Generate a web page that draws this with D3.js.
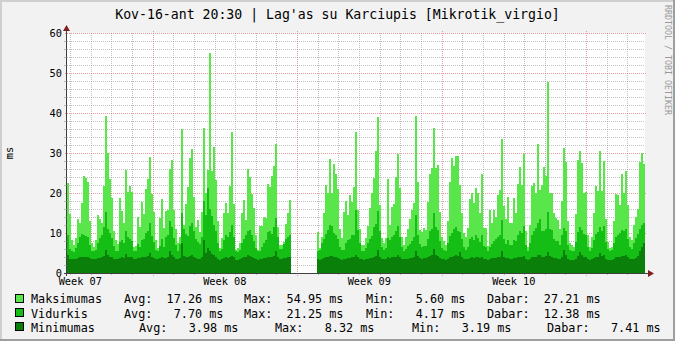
<!DOCTYPE html>
<html>
<head>
<meta charset="utf-8">
<script src="https://cdn.jsdelivr.net/npm/d3@7"></script>
<style>
    body { margin: 0; background: #f2f2f2; }
    svg { display: block; font-family: "DejaVu Sans Mono", monospace; }
    text { white-space: pre; }
</style>
</head>
<body>
<div id="chart"></div>
<script>
// graph time window (one month up to the title time)
const startTime = Date.UTC(2010, 1, 16, 20, 30)
const endTime = Date.UTC(2010, 2, 16, 20, 30)

// one value per consolidated step, null = no data
const maksimumas = [
    22.4, 14.8, 8.3, 7.0, 8.7, 13.5, 12.4, 17.4, 24.3, 23.8, 22.8, 13.1, 7.4, 6.6, 8.3, 14.5, 13.4, 12.6, 21.8, 39.3,
    29.9, 23.5, 18.7, 10.5, 8.3, 7.2, 18.7, 15.5, 12.4, 25.8, 20.2, 21.8, 20.2, 6.6, 6.8, 13.9, 11.4, 17.8, 14.8, 20.9,
    23.5, 29.0, 19.8, 15.3, 8.3, 6.2, 13.7, 18.4, 11.2,
    15.5, 15.8, 25.9, 28.3, 15.8, 10.9, 7.4, 9.1, 35.9, 12.0, 17.3, 21.4, 28.8, 31.0, 19.1, 11.6, 13.3, 10.3, 15.3, 36.3,
    19.9, 25.8, 54.95, 25.5, 31.6, 23.3, 13.0, 6.3, 8.7, 14.9, 17.6, 15.1, 21.8, 35.3, 17.3, 5.75, 6.2, 7.4, 15.1, 18.3,
    13.3, 26.0, 24.1, 19.7, 16.2, 9.5, 5.75, 11.75, 11.75,
    13.9, 13.7, 22.25, 21.6, 24.25, 26.75, 32.25, 11.6, 7.0, 7.0, 7.8, 12.2, 15.1, 18.25,
    null, null, null, null, null, null, null, null, null, null, null, null, null,
    10.3, 6.2, 9.1, 15.1, 22.0, 19.9, 28.5, 19.9, 27.25, 24.75, 20.9, 10.9, 8.7, 15.3, 17.9, 14.5, 19.5, 17.8, 21.6, 35.3,
    15.75, 11.0,
    7.0, 7.0, 8.8, 11.75, 16.2, 19.9, 23.7, 30.6, 38.9, 17.0, 8.7, 7.4, 8.7, 23.5, 12.0, 16.6, 17.25, 24.1, 29.75, 21.2,
    9.1, 7.0, 9.1, 10.9, 13.4, 15.75, 17.4, 39.25, 22.8, 10.75, 10.3, 11.2, 10.75, 17.8, 24.75, 26.2, 36.3, 26.2, 27.0, 15.3,
    9.1, 8.1, 7.0, 13.1, 22.8, 28.8, 26.75, 29.25, 29.25,
    22.0, 15.1, 10.1, 8.9, 11.2, 18.5, 19.9, 17.4, 21.3, 19.9, 15.1, 24.75, 11.2, 11.2, 6.75, 15.75, 12.6, 15.75, 14.1, 19.5,
    20.75, 33.5, 16.75, 13.4, 19.1, 12.4, 12.4, 18.7, 15.1, 22.25, 26.6, 22.0, 29.75, 10.6, 6.6, 12.0, 21.75, 22.4, 19.9, 32.25,
    20.75, 22.0, 26.6, 24.25, 47.8, 19.9, 19.9, 14.9, 13.7,
    13.25, 10.9, 18.1, 31.3, 27.8, 13.0, 7.4, 7.0, 6.6, 14.75, 28.25, 30.6, 27.4, 19.9, 20.3, 9.5, 6.6, 9.1, 15.1, 21.75,
    20.5, 30.5, 20.5, 28.0, 13.4, 7.8, 6.2, 6.6, 13.1, 19.7, 19.5, 17.0, 24.75, 19.9, 25.5, 17.0, 9.1, 8.25, 12.0, 14.1,
    15.9, 27.75, 29.9, 27.21
]
const vidurkis = [
    9.5, 6.0, 5.5, 5.3, 6.2, 7.5, 9.0, 9.8, 9.6, 9.2, 9.0, 7.0, 5.6, 5.4, 5.8, 7.5, 8.8, 9.6, 11.5, 15.3,
    11.0, 10.0, 8.8, 6.8, 5.6, 5.5, 7.8, 8.2, 7.5, 10.5, 9.0, 8.4, 8.0, 5.6, 5.5, 7.2, 6.6, 8.2, 8.6, 10.0,
    10.5, 12.4, 9.2, 7.8, 5.8, 5.4, 6.8, 8.6, 6.5,
    9.0, 9.5, 13.0, 11.5, 8.8, 7.0, 5.6, 7.2, 15.0, 11.0, 9.8, 9.2, 11.8, 12.5, 10.5, 8.5, 7.8, 7.2, 9.0, 18.0,
    14.5, 21.25, 16.0, 14.2, 12.0, 10.5, 7.5, 5.5, 6.0, 8.2, 9.5, 9.0, 10.2, 12.0, 9.0, 5.4, 5.3, 5.8, 7.4, 8.6,
    9.4, 10.4, 10.8, 9.6, 8.0, 6.2, 5.4, 5.6, 6.4,
    7.6, 8.2, 10.2, 10.6, 9.8, 11.5, 13.8, 9.0, 6.0, 6.1, 7.3, 8.6, 9.0, 9.6,
    null, null, null, null, null, null, null, null, null, null, null, null, null,
    5.6, 5.8, 7.4, 8.6, 9.8, 10.8, 12.0, 11.7, 10.0, 9.4, 8.6, 6.4, 5.7, 5.8, 7.5, 8.2, 8.5, 9.4, 9.6, 15.8,
    10.8, 7.4,
    5.6, 5.5, 6.2, 7.4, 8.4, 9.2, 11.4, 12.2, 15.6, 10.4, 6.5, 5.8, 6.3, 8.8, 8.2, 9.0, 9.5, 10.6, 11.8, 9.0,
    6.4, 5.6, 5.9, 6.8, 7.2, 8.0, 9.0, 14.4, 9.6, 7.2, 6.5, 6.7, 6.8, 8.4, 10.4, 11.0, 15.0, 11.6, 10.8, 8.0,
    6.2, 5.8, 5.6, 7.5, 9.2, 10.0, 11.0, 11.6, 10.6,
    10.2, 8.4, 6.4, 5.8, 6.5, 8.4, 9.0, 8.2, 9.4, 8.8, 7.8, 9.6, 6.8, 6.4, 5.4, 6.6, 7.2, 8.0, 8.4, 9.0,
    9.5, 13.2, 8.6, 7.2, 8.2, 7.0, 6.9, 8.2, 8.0, 9.4, 10.6, 10.0, 11.8, 7.0, 5.6, 7.4, 9.6, 10.4, 11.2, 12.4,
    13.4, 10.6, 10.4, 11.0, 15.2, 11.0, 10.8, 8.6, 8.0,
    8.0, 7.0, 9.4, 11.2, 10.4, 7.0, 5.8, 5.6, 5.5, 7.8, 10.2, 11.6, 10.8, 9.8, 9.6, 6.4, 5.6, 6.2, 8.2, 9.8,
    10.2, 11.4, 10.4, 11.8, 7.8, 6.0, 5.6, 5.7, 7.6, 9.0, 9.6, 10.0, 10.8, 10.4, 11.0, 8.6, 6.4, 6.0, 7.4, 8.8,
    9.8, 11.0, 12.0, 12.38
]
const minimumas = [
    4.5, 3.6, 3.4, 3.5, 3.6, 3.8, 3.9, 4.1, 3.9, 4.0, 3.9, 3.7, 3.5, 3.4, 3.5, 3.7, 3.8, 3.9, 4.2, 5.8,
    4.4, 4.0, 3.9, 3.6, 3.5, 3.4, 3.8, 3.9, 3.8, 4.8, 4.0, 3.9, 4.0, 3.5, 3.5, 3.7, 3.8, 3.9, 4.0, 4.1,
    4.2, 5.0, 4.1, 3.8, 3.5, 3.4, 3.7, 3.9, 3.8,
    3.8, 4.0, 5.5, 4.4, 3.9, 3.6, 3.4, 3.7, 7.6, 4.2, 4.0, 3.9, 4.3, 4.5, 4.0, 3.7, 3.6, 3.5, 3.9, 8.32,
    5.0, 6.2, 5.4, 4.8, 4.4, 4.0, 3.6, 3.3, 3.4, 3.7, 3.9, 3.8, 4.0, 4.3, 3.9, 3.3, 3.3, 3.4, 3.7, 3.9,
    4.0, 4.5, 4.2, 4.0, 3.8, 3.5, 3.3, 3.4, 3.5,
    3.7, 3.8, 4.0, 4.1, 4.0, 4.3, 5.6, 4.1, 3.6, 3.6, 3.7, 3.8, 3.9, 4.0,
    null, null, null, null, null, null, null, null, null, null, null, null, null,
    3.4, 3.3, 3.5, 3.7, 3.9, 4.0, 4.3, 4.2, 4.0, 3.9, 3.7, 3.4, 3.3, 3.4, 3.6, 3.7, 3.8, 3.9, 4.0, 4.6,
    4.1, 3.6,
    3.4, 3.3, 3.5, 3.6, 3.7, 3.8, 4.0, 4.3, 5.7, 4.1, 3.5, 3.4, 3.5, 3.9, 3.8, 3.9, 4.0, 4.1, 4.4, 4.0,
    3.5, 3.4, 3.5, 3.6, 3.7, 3.8, 3.9, 5.4, 4.2, 3.8, 3.6, 3.7, 3.7, 3.9, 4.2, 4.4, 6.0, 4.6, 4.3, 3.8,
    3.5, 3.4, 3.3, 3.6, 3.9, 4.1, 4.3, 4.4, 4.2,
    5.2, 4.0, 3.5, 3.4, 3.5, 3.8, 3.9, 3.8, 3.9, 3.9, 3.7, 4.0, 3.5, 3.5, 3.3, 3.6, 3.7, 3.8, 3.8, 3.9,
    4.0, 5.6, 3.9, 3.7, 3.8, 3.6, 3.6, 3.8, 3.7, 3.9, 4.1, 4.0, 4.3, 3.6, 3.3, 3.6, 3.9, 4.0, 4.1, 4.4,
    4.6, 4.0, 4.0, 4.2, 5.3, 4.2, 4.1, 3.8, 3.7,
    3.6, 3.5, 3.9, 5.8, 4.4, 3.6, 3.3, 3.3, 3.2, 3.6, 4.3, 5.2, 4.5, 4.0, 4.0, 3.4, 3.2, 3.4, 3.7, 4.0,
    4.1, 5.0, 4.2, 4.4, 3.6, 3.3, 3.19, 3.3, 3.6, 3.9, 4.0, 4.0, 4.3, 4.2, 4.4, 3.9, 3.4, 3.4, 3.6, 3.8,
    4.2, 5.4, 6.6, 7.41
]

const yTicks = [0, 10, 20, 30, 40, 50, 60]
const weekStarts = ['2010-02-14', '2010-02-21', '2010-02-28', '2010-03-07']
const weekLabels = ['Week 07', 'Week 08', 'Week 09', 'Week 10']

const seriesNames = ['Maksimumas', 'Vidurkis', 'Minimumas']
const seriesColors = ['#58e64b', '#14be14', '#0a800a']
const statAvg = ['17.26', '7.70', '3.98']
const statMax = ['54.95', '21.25', '8.32']
const statMin = ['5.60', '4.17', '3.19']
const statNow = ['27.21', '12.38', '7.41']

const title = "Kov-16-ant 20:30 | Lag'as su Karciupis [Mikrotik_virgio]"

const width = 675
const height = 341
const plot = { left: 67, right: 645, top: 33, bottom: 273 }

const svg = d3.select('#chart').append('svg')
    .attr('width', width)
    .attr('height', height)

// background + 3d frame
svg.append('rect').attr('width', width).attr('height', height).attr('fill', '#f2f2f2')
svg.append('path').attr('d', `M0,${height} V0 H${width}`).attr('stroke', '#cfcfcf').attr('stroke-width', 4).attr('fill', 'none')
svg.append('path').attr('d', `M0,${height} H${width} V0`).attr('stroke', '#9e9e9e').attr('stroke-width', 4).attr('fill', 'none')

const xScale = d3.scaleUtc()
    .domain([new Date(startTime), new Date(endTime)])
    .range([plot.left, plot.right])
const yScale = d3.scaleLinear()
    .domain([0, 60])
    .range([plot.bottom, plot.top])

// canvas
svg.append('rect')
    .attr('x', plot.left).attr('y', plot.top)
    .attr('width', plot.right - plot.left).attr('height', plot.bottom - plot.top)
    .attr('fill', '#fff')

const minorCol = 'rgba(143,143,143,0.55)'
const majorCol = 'rgba(222,79,79,0.55)'

// grid
const grid = svg.append('g').attr('shape-rendering', 'crispEdges')
const days = d3.utcDay.range(xScale.domain()[0], xScale.domain()[1]).filter(d => d.getUTCDay() !== 0)
const weeks = d3.utcSunday.range(xScale.domain()[0], xScale.domain()[1])
const minorY = yScale.ticks(30).filter(v => v % 10 !== 0)

grid.selectAll('.hmin').data(minorY).join('line')
    .attr('x1', plot.left).attr('x2', plot.right)
    .attr('y1', d => Math.round(yScale(d)) + 0.5).attr('y2', d => Math.round(yScale(d)) + 0.5)
    .attr('stroke', minorCol).attr('stroke-dasharray', '1,1')
grid.selectAll('.vmin').data(days).join('line')
    .attr('x1', d => Math.round(xScale(d)) + 0.5).attr('x2', d => Math.round(xScale(d)) + 0.5)
    .attr('y1', plot.top).attr('y2', plot.bottom)
    .attr('stroke', minorCol).attr('stroke-dasharray', '1,1')
grid.selectAll('.vtick').data(days).join('line')
    .attr('x1', d => Math.round(xScale(d)) + 0.5).attr('x2', d => Math.round(xScale(d)) + 0.5)
    .attr('y1', plot.bottom).attr('y2', plot.bottom + 2)
    .attr('stroke', minorCol)
grid.selectAll('.hmaj').data(yTicks.slice(1)).join('line')
    .attr('x1', plot.left - 2).attr('x2', plot.right + 2)
    .attr('y1', d => Math.round(yScale(d)) + 0.5).attr('y2', d => Math.round(yScale(d)) + 0.5)
    .attr('stroke', majorCol).attr('stroke-dasharray', '1,1')
grid.selectAll('.vmaj').data(weeks).join('line')
    .attr('x1', d => Math.round(xScale(d)) + 0.5).attr('x2', d => Math.round(xScale(d)) + 0.5)
    .attr('y1', plot.top - 2).attr('y2', plot.bottom + 3)
    .attr('stroke', majorCol).attr('stroke-dasharray', '1,1')

// data bars, drawn max -> avg -> min on top of each other
const n = maksimumas.length
const step = (endTime - startTime) / n
const tAt = i => new Date(startTime + i * step)

const series = [maksimumas, vidurkis, minimumas]
series.forEach((vals, k) => {
    svg.append('g')
        .attr('shape-rendering', 'crispEdges')
        .selectAll('rect')
        .data(vals.map((v, i) => ({ i, v })).filter(d => d.v !== null))
        .join('rect')
        .attr('x', d => xScale(tAt(d.i)))
        .attr('width', d => xScale(tAt(d.i + 1)) - xScale(tAt(d.i)))
        .attr('y', d => yScale(d.v))
        .attr('height', d => yScale(0) - yScale(d.v))
        .attr('fill', seriesColors[k])
})

// axes
const axisCol = '#404040'
svg.append('line')
    .attr('x1', plot.left - 3).attr('x2', plot.right + 4)
    .attr('y1', plot.bottom + 0.5).attr('y2', plot.bottom + 0.5)
    .attr('stroke', axisCol)
svg.append('line')
    .attr('x1', plot.left - 0.5).attr('x2', plot.left - 0.5)
    .attr('y1', plot.bottom + 3).attr('y2', plot.top - 4)
    .attr('stroke', axisCol)
svg.append('path')
    .attr('d', `M${plot.right + 3},${plot.bottom - 3} L${plot.right + 9},${plot.bottom + 0.5} L${plot.right + 3},${plot.bottom + 4} Z`)
    .attr('fill', '#801f1f')
svg.append('path')
    .attr('d', `M${plot.left - 4},${plot.top - 2} L${plot.left - 0.5},${plot.top - 8} L${plot.left + 3},${plot.top - 2} Z`)
    .attr('fill', '#801f1f')

// small ticks on y axis
svg.append('g').selectAll('line').data(minorY).join('line')
    .attr('shape-rendering', 'crispEdges')
    .attr('x1', plot.left - 3).attr('x2', plot.left)
    .attr('y1', d => Math.round(yScale(d)) + 0.5).attr('y2', d => Math.round(yScale(d)) + 0.5)
    .attr('stroke', minorCol)

// y labels
svg.append('g').selectAll('text').data(yTicks).join('text')
    .attr('x', 62).attr('y', d => yScale(d) + 4)
    .attr('text-anchor', 'end')
    .attr('font-size', '10.3px')
    .text(d => d)

svg.append('text')
    .attr('transform', `translate(13,${(plot.top + plot.bottom) / 2}) rotate(-90)`)
    .attr('text-anchor', 'middle')
    .attr('font-size', '10.3px')
    .text('ms')

// week labels, centred in the middle of each week
svg.append('g').selectAll('text').data(weekStarts).join('text')
    .attr('x', d => xScale(d3.utcHour.offset(new Date(d + 'T00:00:00Z'), 84)))
    .attr('y', 285)
    .attr('text-anchor', 'middle')
    .attr('font-size', '10.3px')
    .text((d, i) => weekLabels[i])

// title
svg.append('text')
    .attr('x', width / 2).attr('y', 18.5)
    .attr('text-anchor', 'middle')
    .attr('font-size', '13.2px')
    .text(title)

// watermark
svg.append('text')
    .attr('transform', 'translate(665,5) rotate(90)')
    .attr('font-size', '8.3px')
    .attr('fill', '#999')
    .text('RRDTOOL / TOBI OETIKER')

// legend
const pad = s => s.padStart(6, ' ')
const rowY = [303.3, 317.5, 331.6]
const colX = [[31, 124, 244, 366, 487], [31, 124, 244, 366, 487], [31, 139, 275, 412, 547]]
const legend = svg.append('g').attr('font-size', '11.8px')
seriesNames.forEach((name, i) => {
    legend.append('rect')
        .attr('x', 15.5).attr('y', rowY[i] - 9.3)
        .attr('width', 8).attr('height', 8)
        .attr('fill', seriesColors[i])
        .attr('stroke', '#000')
        .attr('shape-rendering', 'crispEdges')
    const parts = [
        name,
        `Avg: ${pad(statAvg[i])} ms`,
        `Max: ${pad(statMax[i])} ms`,
        `Min: ${pad(statMin[i])} ms`,
        `Dabar: ${pad(statNow[i])} ms`
    ]
    legend.selectAll(null).data(parts).join('text')
        .attr('x', (d, j) => colX[i][j])
        .attr('y', rowY[i])
        .text(d => d)
})
</script>
</body>
</html>
